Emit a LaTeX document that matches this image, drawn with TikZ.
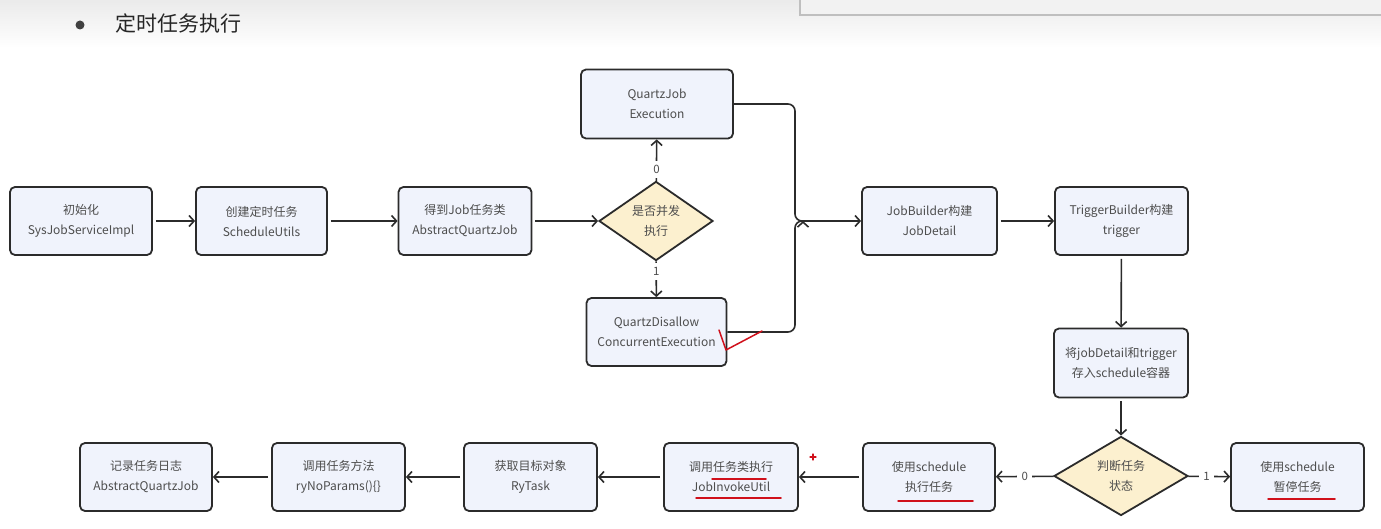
\documentclass[tikz,border=0pt]{standalone}
\usepackage{fontspec}
\setmainfont{Noto Sans CJK SC}
\usetikzlibrary{shapes.geometric,arrows.meta}
\definecolor{boxfill}{HTML}{F0F3FC}
\definecolor{boxline}{HTML}{2B2B2B}
\definecolor{decfill}{HTML}{FCF0CF}
\definecolor{txtgray}{HTML}{4D4D4D}
\definecolor{penred}{HTML}{D0101B}
\tikzset{>={Straight Barb[length=5pt,width=11pt]}}

\begin{document}
\begin{tikzpicture}[x=1pt,y=-1pt]
	\tikzstyle{block} = [rectangle, rounded corners=5pt, draw=boxline, line width=1.8pt, fill=boxfill, text=txtgray, align=center, minimum width=133pt, minimum height=68pt, font=\fontsize{12}{20}\selectfont]
	\tikzstyle{decision} = [diamond, draw=boxline, line width=1.8pt, fill=decfill, text=txtgray, align=center, inner sep=0pt, font=\fontsize{12}{20}\selectfont]
	\tikzstyle{flow} = [->, line width=1.6pt, draw=boxline, shorten <=3pt]
	\tikzstyle{flag} = [fill=white, text=txtgray, inner sep=4.5pt, font=\fontsize{11.5}{12}\selectfont]
	\tikzstyle{pen} = [draw=penred, line width=1.5pt, line cap=round, line join=round]

	\useasboundingbox (0,0) rectangle (1381,529);
	\fill[white] (0,0) rectangle (1381,529);
	\fill[top color=black!8, bottom color=white] (0,0) rectangle (1381,48);
	\fill[black!5] (800,0) rectangle (1381,15);
	\draw[black!25, line width=1.5pt] (800,0) -- (800,15) -- (1381,15);

%----------title------------------------------
	\node[circle, fill=black!75, minimum size=9pt, inner sep=0pt] (bullet) at (80,25) {};
	\node[anchor=west, text=black!85, font=\fontsize{21}{24}\selectfont] (title) at (112,23) {定时任务执行};

%----------first row------------------------------
	\node[block, minimum width=142pt] (init) at (81,221) {初始化\\SysJobServiceImpl};
	\node[block, minimum width=131pt] (create) at (261.5,221) {创建定时任务\\ScheduleUtils};
	\node[block] (getjob) at (465,221) {得到Job任务类\\AbstractQuartzJob};
	\node[decision, minimum width=114pt, minimum height=68pt] (concur) at (656,221) {是否并发\\执行};
	\node[block, minimum width=152pt, minimum height=69pt] (qje) at (657,104) {QuartzJob\\Execution};
	\node[block, minimum width=140pt] (qdce) at (656.5,332) {QuartzDisallow\\ConcurrentExecution};

	\path[flow] (init) edge (create);
	\path[flow] (create) edge (getjob);
	\path[flow] (getjob) edge (concur);
	\path[flow, shorten <=0pt] (concur) edge node[flag, pos=0.27] {0} (qje);
	\path[flow, shorten <=0pt] (concur) edge node[flag, pos=0.28] {1} (qdce);

	\coordinate (merge) at (803,221);
	\draw[line width=1.6pt, draw=boxline, rounded corners=7pt] (qje.east) -| ([xshift=-8pt]merge) -- (merge);
	\draw[line width=1.6pt, draw=boxline, rounded corners=7pt] (qdce.east) -| ([xshift=-8pt]merge) -- (merge);

%------------------------------------------------------------
	\node[block, minimum width=135pt] (jobdetail) at (929.5,221) {JobBuilder构建\\JobDetail};
	\node[block] (trigger) at (1121.5,221) {TriggerBuilder构建\\trigger};
	\node[block, minimum width=134pt, minimum height=69pt] (store) at (1121,363) {将jobDetail和trigger\\存入schedule容器};
	\node[decision, minimum width=134pt, minimum height=72pt] (state) at (1121,476) {判断任务\\状态};

	\path[flow, shorten <=0pt] (merge) edge (jobdetail);
	\path[flow] (jobdetail) edge (trigger);
	\path[flow] (trigger) edge (store);
	\path[flow] (store) edge (state);

%----------second row------------------------------
	\node[block] (pause) at (1297.5,477) {使用schedule\\暂停任务};
	\node[block, minimum width=132pt] (run) at (929,477) {使用schedule\\执行任务};
	\node[block, minimum width=134pt] (invoke) at (731,477) {调用任务类执行\\JobInvokeUtil};
	\node[block] (target) at (530.5,477) {获取目标对象\\RyTask};
	\node[block] (method) at (338.5,477) {调用任务方法\\ryNoParams()\{\}};
	\node[block, minimum width=132pt] (log) at (146,477) {记录任务日志\\AbstractQuartzJob};

	\path[flow, shorten <=0pt] (state) edge node[flag, pos=0.44] {1} (pause);
	\path[flow, shorten <=0pt] (state) edge node[flag, pos=0.5] {0} (run);
	\path[flow] (run) edge (invoke);
	\path[flow] (invoke) edge (target);
	\path[flow] (target) edge (method);
	\path[flow] (method) edge (log);

%----------red pen marks------------------------------
	\draw[pen] (719,330) -- (726,350) -- (762,331);
	\draw[pen] (712,479) -- (766,479);
	\draw[pen] (696,498) -- (781,498);
	\draw[pen] (898,501) -- (973,501);
	\draw[pen] (1268,499) -- (1335,499);
	\draw[pen, line width=1.2pt] (810,457) -- (816,457) (813,454) -- (813,460);
\end{tikzpicture}
\end{document}
